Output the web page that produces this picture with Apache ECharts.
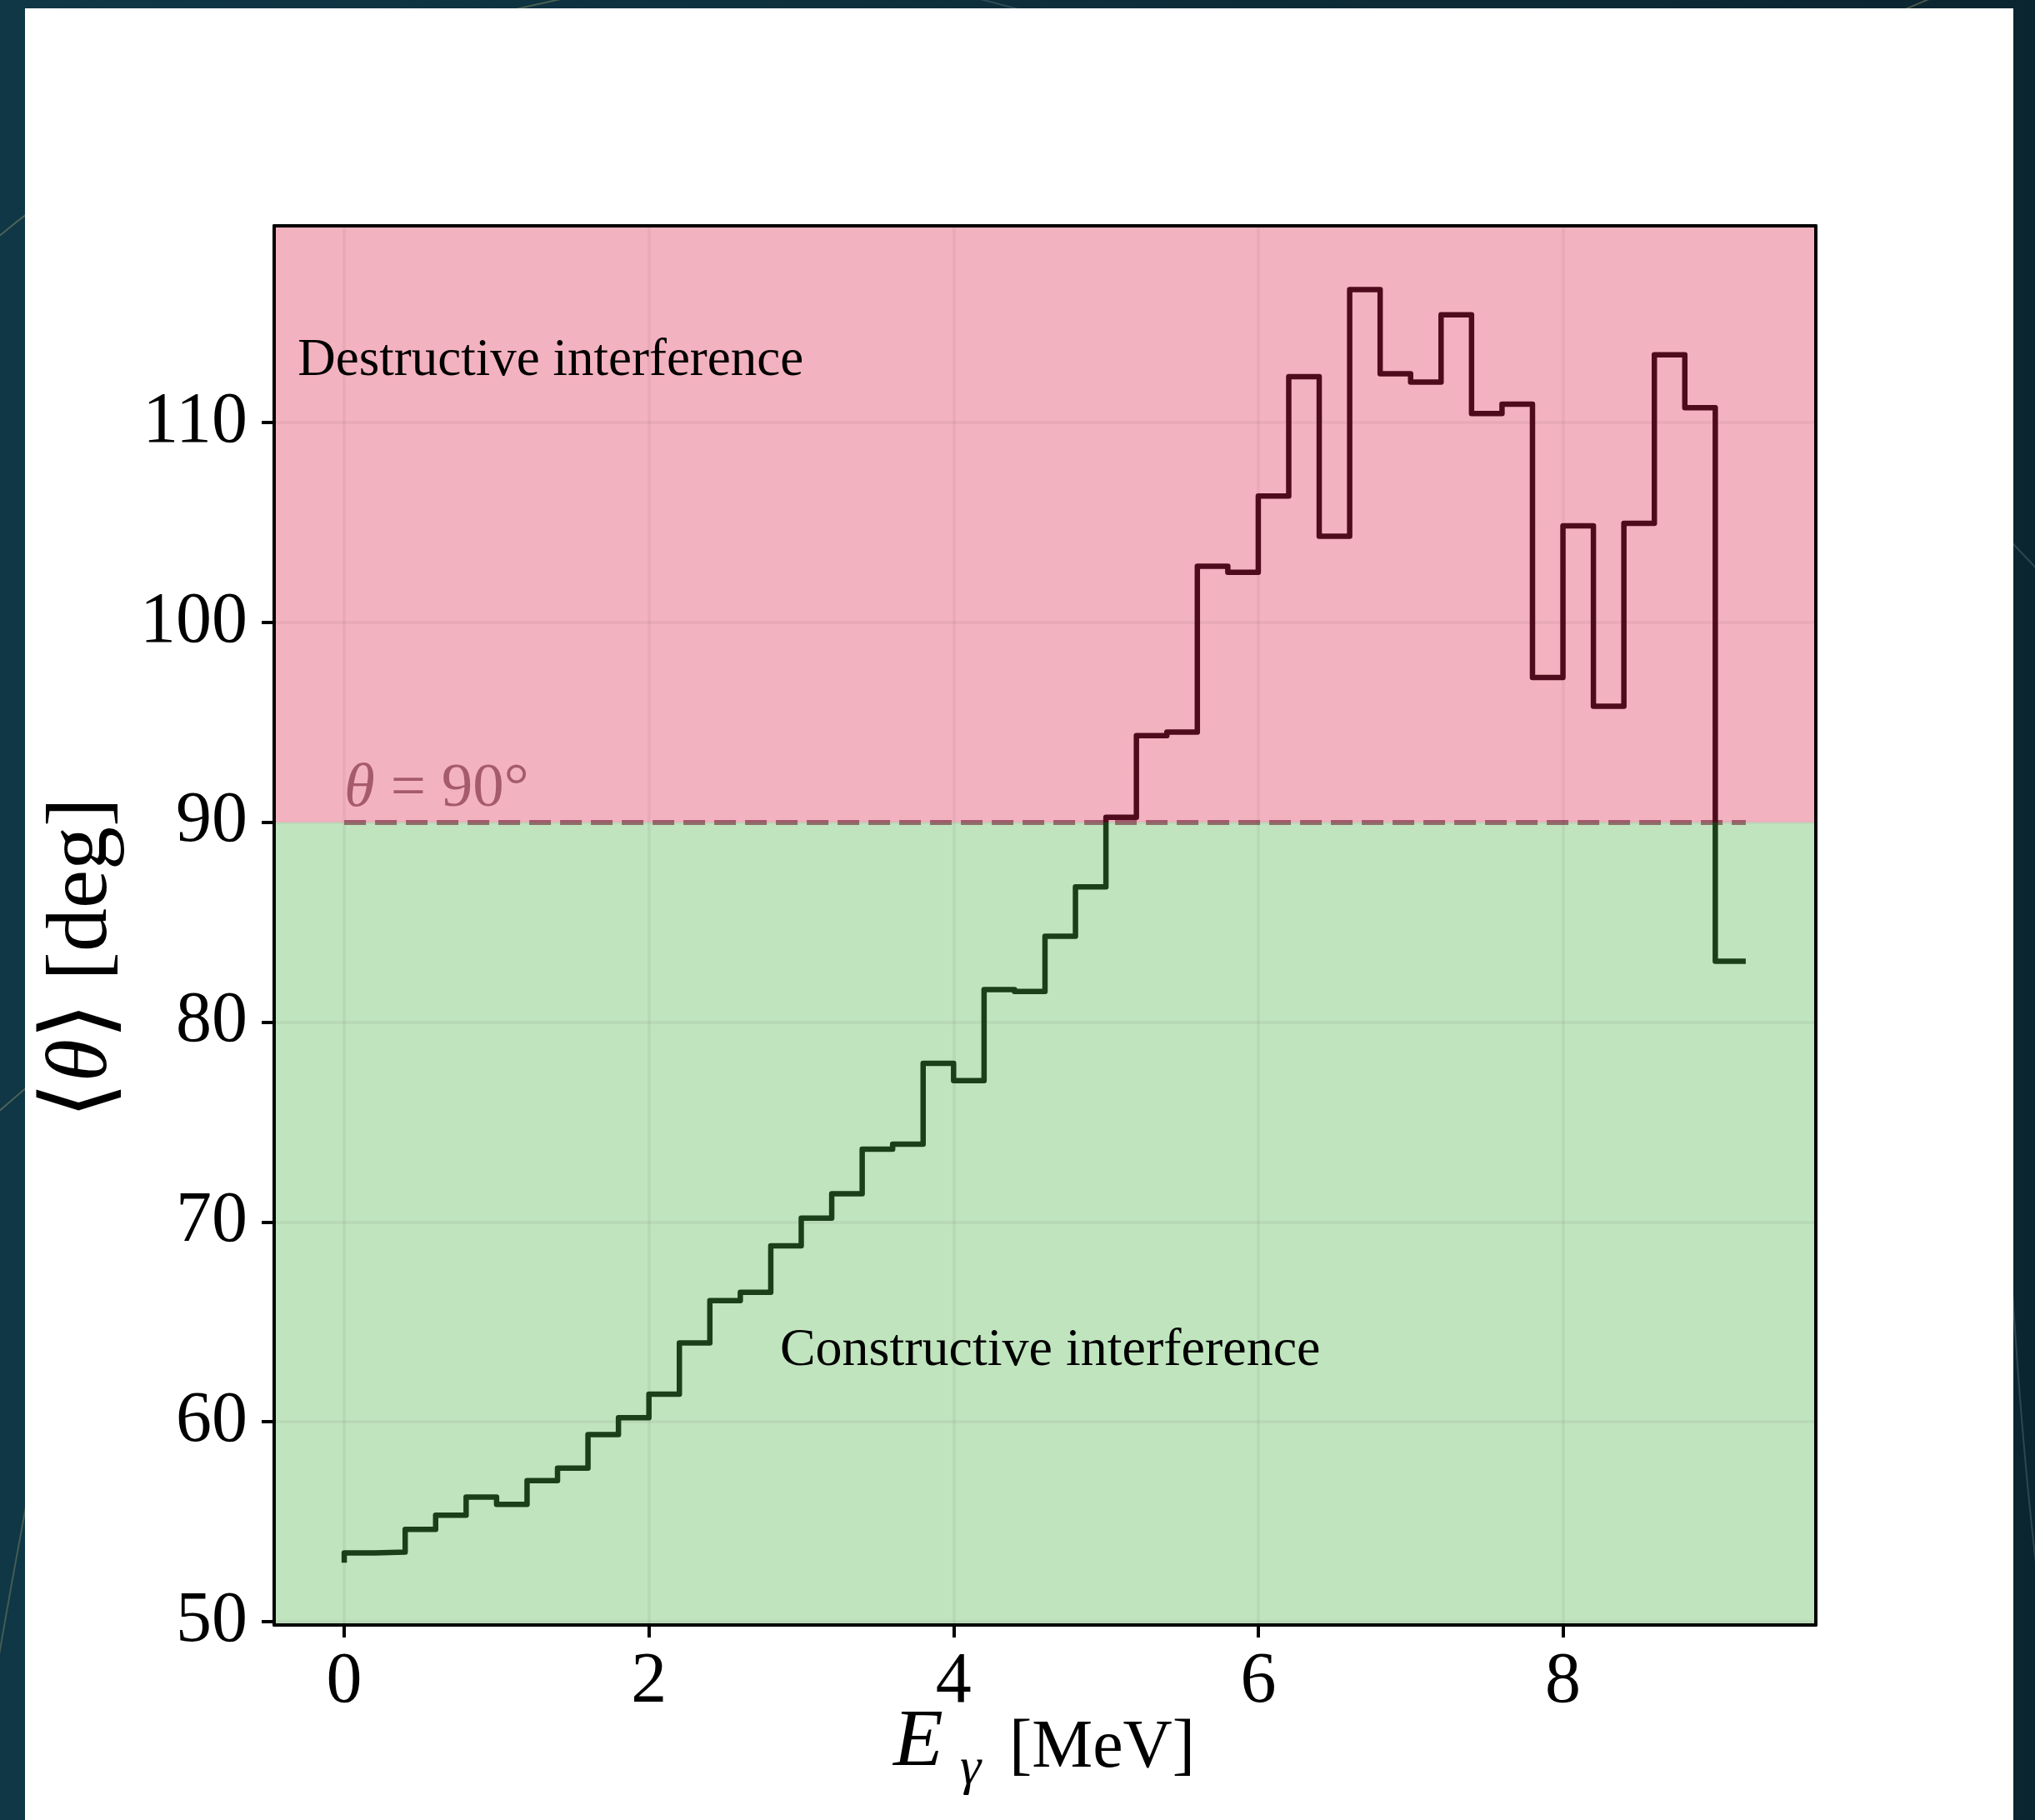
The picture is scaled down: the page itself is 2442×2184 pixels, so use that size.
<!DOCTYPE html>
<html>
<head>
<meta charset="utf-8">
<script src="https://cdn.jsdelivr.net/npm/echarts@6/dist/echarts.min.js"></script>
<style>
  html, body { margin: 0; padding: 0; background: #0d2c3a; }
  #chart { width: 2442px; height: 2184px; }
</style>
</head>
<body>
<div id="chart"></div>
<script>
// Photon energy bin edges [MeV]
const energyEdges = [
  0.0, 0.2, 0.4, 0.6, 0.8, 1.0, 1.2, 1.4, 1.6, 1.8,
  2.0, 2.2, 2.4, 2.6, 2.8, 3.0, 3.2, 3.4, 3.6, 3.8,
  4.0, 4.2, 4.4, 4.6, 4.8, 5.0, 5.2, 5.4, 5.6, 5.8,
  6.0, 6.2, 6.4, 6.6, 6.8, 7.0, 7.2, 7.4, 7.6, 7.8,
  8.0, 8.2, 8.4, 8.6, 8.8, 9.0, 9.2
];

// Mean angle <theta> [deg]: starting level at E = 0, then one value per bin (held up to the bin's right edge)
const meanTheta = [
  52.95,
  53.44, 53.48, 54.62, 55.32, 56.23, 55.87, 57.05, 57.68, 59.36, 60.20,
  61.38, 63.95, 66.06, 66.48, 68.80, 70.19, 71.41, 73.64, 73.89, 77.94,
  77.07, 81.63, 81.53, 84.30, 86.77, 90.25, 94.34, 94.51, 102.81, 102.51,
  106.33, 112.30, 104.32, 116.66, 112.45, 112.03, 115.40, 110.46, 110.93, 97.25,
  104.84, 95.81, 104.96, 113.40, 110.75, 83.05
];

const xTicks = [0, 2, 4, 6, 8];
const yTicks = [50, 60, 70, 80, 90, 100, 110];
const xRange = [-0.46, 9.66];
const yRange = [49.83, 119.85];
const boundaryAngle = 90;

const SERIF = '"Liberation Serif", "DejaVu Serif", serif';
const PINK = '#f3b2bf';
const GREEN = '#c0e5be';
const LINE_RED = '#4e0b1c';
const LINE_GREEN = '#1b3f18';

const stepData = energyEdges.map((e, i) => [e, meanTheta[i]]);

const chart = echarts.init(document.getElementById('chart'), null, { renderer: 'canvas' });

const frameAxis = {
  type: 'value',
  z: 2,
  axisLine: { show: true, onZero: false, lineStyle: { color: '#000', width: 4 } },
  axisTick: { show: false },
  axisLabel: { show: false },
  splitLine: { show: false }
};

const option = {
  backgroundColor: 'transparent',
  animation: false,
  grid: { left: 329, top: 271, width: 1850, height: 1679, containLabel: false },
  xAxis: [
    {
      type: 'value',
      min: xRange[0], max: xRange[1],
      z: 2,
      axisLine: { show: true, onZero: false, lineStyle: { color: '#000', width: 4 } },
      axisTick: { show: true, inside: false, length: 15, lineStyle: { color: '#000', width: 4 }, customValues: xTicks },
      axisLabel: {
        customValues: xTicks, margin: 26, color: '#000',
        fontFamily: SERIF, fontSize: 86
      },
      splitLine: { show: true, lineStyle: { color: 'rgba(110,90,95,0.09)', width: 3.5 } }
    },
    Object.assign({}, frameAxis, { position: 'top', min: xRange[0], max: xRange[1] })
  ],
  yAxis: [
    {
      type: 'value',
      min: yRange[0], max: yRange[1],
      z: 2,
      axisLine: { show: true, onZero: false, lineStyle: { color: '#000', width: 4 } },
      axisTick: { show: true, inside: false, length: 15, lineStyle: { color: '#000', width: 4 }, customValues: yTicks },
      axisLabel: {
        customValues: yTicks, margin: 32, color: '#000',
        fontFamily: SERIF, fontSize: 86
      },
      splitLine: { show: true, lineStyle: { color: 'rgba(110,90,95,0.09)', width: 3.5 } }
    },
    Object.assign({}, frameAxis, { position: 'right', min: yRange[0], max: yRange[1] })
  ],
  visualMap: {
    show: false,
    type: 'piecewise',
    seriesIndex: 2,
    dimension: 1,
    pieces: [
      { gte: 0, lt: boundaryAngle, color: LINE_GREEN },
      { gte: boundaryAngle, lte: 180, color: LINE_RED }
    ]
  },
  series: [
    {
      // shaded regions: constructive below 90 deg, destructive above
      type: 'line',
      data: [],
      silent: true,
      markArea: {
        silent: true,
        data: [
          [{ yAxis: yRange[0], itemStyle: { color: GREEN } }, { yAxis: boundaryAngle }],
          [{ yAxis: boundaryAngle, itemStyle: { color: PINK } }, { yAxis: yRange[1] }]
        ]
      }
    },
    {
      // theta = 90 deg reference line
      type: 'line',
      data: [],
      silent: true,
      markLine: {
        silent: true,
        symbol: ['none', 'none'],
        label: { show: false },
        lineStyle: { color: 'rgba(100,20,40,0.55)', width: 6, type: [26, 11] },
        data: [[{ coord: [energyEdges[0], boundaryAngle] }, { coord: [energyEdges[energyEdges.length - 1], boundaryAngle] }]]
      }
    },
    {
      type: 'line',
      step: 'start',
      data: stepData,
      showSymbol: false,
      z: 10,
      lineStyle: { width: 6.5, join: 'round', cap: 'butt' }
    }
  ]
};

chart.setOption(option);

// Text annotations placed in data coordinates
const px = (x, y) => chart.convertToPixel({ gridIndex: 0 }, [x, y]);
const mid = 0.34; // em offset from baseline to the middle of the line box

function textAt(x, y, text, size, extra) {
  return {
    type: 'text', x: x, y: y - mid * size, z: 50,
    style: Object.assign({
      text: text, fontFamily: SERIF, fontSize: size, fill: '#000',
      align: 'left', verticalAlign: 'middle'
    }, extra || {})
  };
}

const pDes = px(-0.305, 112.2);
const pCon = px(2.86, 62.65);
const pRef = px(0.0, 90.6);

const graphics = [
  // page backdrop with faint decorative strokes
  { type: 'rect', z: -20, shape: { x: 0, y: 0, width: 2442, height: 2184 },
    style: { fill: new echarts.graphic.LinearGradient(0, 0, 1, 0, [
      { offset: 0, color: '#0f3746' }, { offset: 1, color: '#0b2530' }]) } },
  { type: 'bezierCurve', z: -19, shape: { x1: -20, y1: 1350, x2: 2460, y2: -60, cpx1: 600, cpy1: 800, cpx2: 1800, cpy2: 200 },
    style: { stroke: 'rgba(190,180,120,0.35)', lineWidth: 2, fill: null } },
  { type: 'bezierCurve', z: -19, shape: { x1: -20, y1: 300, x2: 900, y2: -40, cpx1: 200, cpy1: 100, cpx2: 600, cpy2: 0 },
    style: { stroke: 'rgba(190,180,120,0.35)', lineWidth: 2, fill: null } },
  { type: 'bezierCurve', z: -19, shape: { x1: -20, y1: 2100, x2: 300, y2: 600, cpx1: 60, cpy1: 1600, cpx2: 200, cpy2: 1000 },
    style: { stroke: 'rgba(190,180,120,0.3)', lineWidth: 2, fill: null } },
  { type: 'bezierCurve', z: -19, shape: { x1: 2460, y1: 2000, x2: 2330, y2: 100, cpx1: 2380, cpy1: 1500, cpx2: 2400, cpy2: 600 },
    style: { stroke: 'rgba(150,170,170,0.25)', lineWidth: 2, fill: null } },
  { type: 'bezierCurve', z: -19, shape: { x1: 1100, y1: -20, x2: 2460, y2: 700, cpx1: 1600, cpy1: 100, cpx2: 2100, cpy2: 300 },
    style: { stroke: 'rgba(150,170,170,0.25)', lineWidth: 2, fill: null } },
  { type: 'rect', z: -10, shape: { x: 30, y: 10, width: 2386, height: 2200 }, style: { fill: '#ffffff' } },

  textAt(pDes[0], pDes[1], 'Destructive interference', 63),
  textAt(pCon[0], pCon[1], 'Constructive interference', 64),
  {
    type: 'text', x: pRef[0], y: pRef[1] - mid * 75, z: 50,
    style: {
      text: '{i|θ} = 90°', fontFamily: SERIF, fontSize: 75, fill: 'rgba(100,20,40,0.55)',
      align: 'left', verticalAlign: 'middle',
      rich: { i: { fontFamily: SERIF, fontSize: 75, fontStyle: 'italic', fill: 'rgba(100,20,40,0.55)' } }
    }
  },

  // x-axis title: E_gamma [MeV]
  textAt(1072, 2126, 'E', 98, { fontStyle: 'italic' }),
  textAt(1152, 2145, 'γ', 64, { fontStyle: 'italic' }),
  textAt(1211, 2126, '[MeV]', 82),

  // y-axis title: <theta> [deg]
  {
    type: 'text', x: 100, y: 1150, rotation: Math.PI / 2, z: 50,
    style: {
      text: '{b|⟨}{i|θ}{b|⟩} [deg]', fontFamily: SERIF, fontSize: 104, fill: '#000',
      align: 'center', verticalAlign: 'middle',
      rich: {
        i: { fontFamily: SERIF, fontSize: 104, fontStyle: 'italic', fill: '#000' },
        b: { fontFamily: SERIF, fontSize: 114, fill: '#000' }
      }
    }
  }
];

chart.setOption({ graphic: graphics });
</script>
</body>
</html>
